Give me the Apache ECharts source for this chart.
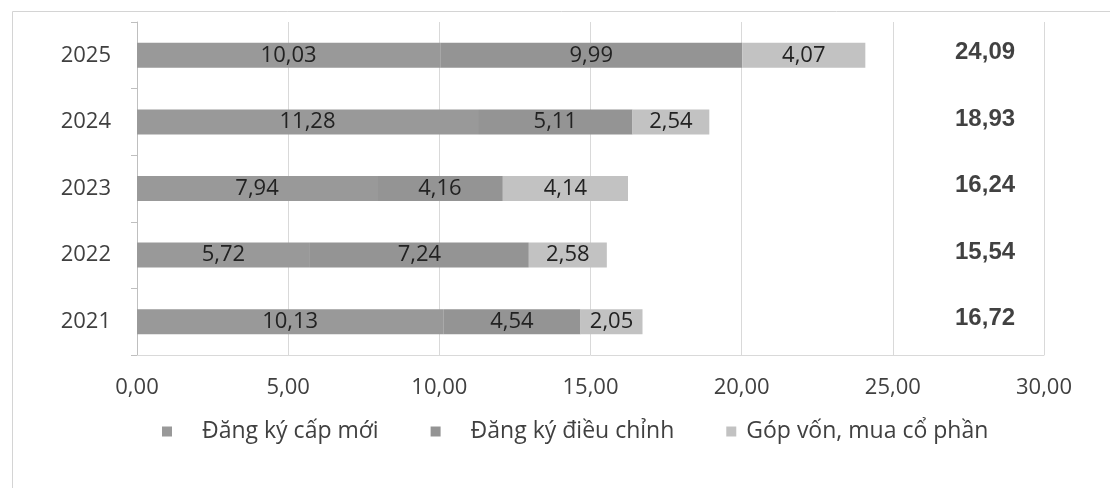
<!DOCTYPE html>
<html><head><meta charset="utf-8">
<script src="https://cdn.jsdelivr.net/npm/echarts@6/dist/echarts.min.js"></script>
<style>html,body{margin:0;padding:0;background:#fff}#c{width:1110px;height:488px}</style>
</head><body><div id="c"></div>
<script>
const years = ['2021', '2022', '2023', '2024', '2025'];
const newReg = [10.13, 5.72, 7.94, 11.28, 10.03];
const adjReg = [4.54, 7.24, 4.16, 5.11, 9.99];
const capital = [2.05, 2.58, 4.14, 2.54, 4.07];
const totals = [16.72, 15.54, 16.24, 18.93, 24.09];
const xMin = 0, xMax = 30, xStep = 5;
const seriesNames = ['Đăng ký cấp mới', 'Đăng ký điều chỉnh', 'Góp vốn, mua cổ phần'];

const FONT = '"Open Sans", sans-serif';
const fmt = v => Number(v).toFixed(2).replace('.', ',');
const colors = ['#999999', '#949494', '#c2c2c2'];
const TOTAL_X = 28.05;

const chart = echarts.init(document.getElementById('c'), null, {renderer: 'canvas'});
const barLabel = {
  show: true, position: 'inside', color: '#222',
  fontFamily: FONT, fontSize: 22, formatter: p => fmt(p.value)
};
const option = {
  animation: false,
  backgroundColor: '#fff',
  grid: {left: 137, right: 66, top: 22, bottom: 133, containLabel: false},
  graphic: [{
    type: 'rect', silent: true, z: -10,
    shape: {x: 12.5, y: 11.5, width: 1300, height: 1000},
    style: {fill: 'none', stroke: '#d4d4d4', lineWidth: 1}
  }],
  legend: {
    bottom: 40, left: 157, icon: 'rect', itemWidth: 10, itemHeight: 10, itemGap: 52,
    selectedMode: false,
    textStyle: {fontFamily: FONT, fontSize: 23, color: '#404040', padding: [0, 0, 0, 25]},
    data: [
      {name: seriesNames[0]},
      {name: seriesNames[1]},
      {name: seriesNames[2], textStyle: {padding: [0, 0, 0, 5]}}
    ]
  },
  xAxis: {
    type: 'value', min: xMin, max: xMax, interval: xStep,
    axisLine: {show: true, lineStyle: {color: '#d9d9d9'}},
    axisTick: {show: false},
    splitLine: {show: true, lineStyle: {color: '#d9d9d9'}},
    axisLabel: {fontFamily: FONT, fontSize: 22, color: '#404040', margin: 22, formatter: v => fmt(v)}
  },
  yAxis: {
    type: 'category', data: years,
    axisLine: {show: true, lineStyle: {color: '#bfbfbf'}},
    axisTick: {show: true, length: 6, lineStyle: {color: '#bfbfbf'}},
    axisLabel: {fontFamily: FONT, fontSize: 22, color: '#404040', margin: 26}
  },
  series: [
    {name: seriesNames[0], type: 'bar', stack: 's', barWidth: 25, data: newReg,
     itemStyle: {color: colors[0]}, label: barLabel},
    {name: seriesNames[1], type: 'bar', stack: 's', barWidth: 25, data: adjReg,
     itemStyle: {color: colors[1]}, label: barLabel},
    {name: seriesNames[2], type: 'bar', stack: 's', barWidth: 25, data: capital,
     itemStyle: {color: colors[2]}, label: barLabel},
    {name: 'total', type: 'scatter', symbolSize: 0, silent: true,
     data: years.map((y, i) => [TOTAL_X, y, totals[i]]),
     label: {show: true, position: 'inside', offset: [0, -3], color: '#111',
       fontFamily: '"Liberation Sans", Arial, sans-serif', fontWeight: 'bold', fontSize: 24,
       formatter: p => fmt(p.value[2])}}
  ]
};
chart.setOption(option);
</script>
</body></html>
